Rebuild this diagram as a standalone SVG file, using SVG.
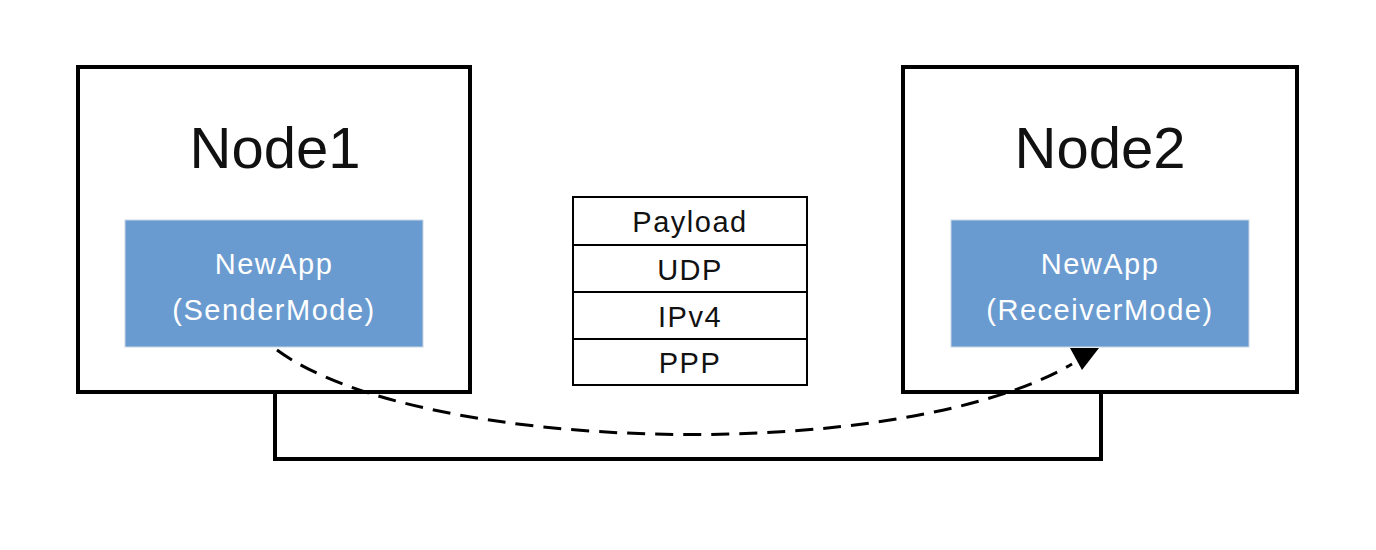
<svg xmlns="http://www.w3.org/2000/svg" width="1376" height="550" viewBox="0 0 1376 550">
<style>
.node{fill:#fff;stroke:#000;stroke-width:4}
.app{fill:#6a9bd0;stroke:#c9d6e6;stroke-width:1}
.title{font-family:"Liberation Sans",Arial,sans-serif;font-size:58px;fill:#111;text-anchor:middle}
.apptxt{font-family:"Liberation Sans",Arial,sans-serif;font-size:29px;fill:#fff;text-anchor:middle;letter-spacing:1.5px}
.layer{fill:#fff;stroke:#000;stroke-width:2}
.ltxt{font-family:"Liberation Sans",Arial,sans-serif;font-size:29px;fill:#111;text-anchor:middle;letter-spacing:1.5px}
.link{fill:none;stroke:#000;stroke-width:4}
.flow{fill:none;stroke:#000;stroke-width:3;stroke-dasharray:18 10}
</style>
<g id="connectors">
<polyline class="link" points="275,392 275,459 1101,459 1101,392"/>
</g>
<g id="node1">
<rect class="node" x="78" y="67" width="392" height="325"/>
<text class="title" x="275" y="168">Node1</text>
<g id="app1">
<rect class="app" x="125" y="220" width="298" height="127"/>
<text class="apptxt" x="274" y="274">NewApp</text>
<text class="apptxt" x="274" y="320">(SenderMode)</text>
</g>
</g>
<g id="node2">
<rect class="node" x="903" y="67" width="394" height="325"/>
<text class="title" x="1100" y="168">Node2</text>
<g id="app2">
<rect class="app" x="951" y="220" width="298" height="127"/>
<text class="apptxt" x="1100" y="274">NewApp</text>
<text class="apptxt" x="1100" y="320">(ReceiverMode)</text>
</g>
</g>
<g id="packet">
<rect class="layer" x="573" y="197" width="234" height="48"/>
<rect class="layer" x="573" y="245" width="234" height="47"/>
<rect class="layer" x="573" y="292" width="234" height="47"/>
<rect class="layer" x="573" y="339" width="234" height="46"/>
<text class="ltxt" x="690" y="232">Payload</text>
<text class="ltxt" x="690" y="280">UDP</text>
<text class="ltxt" x="690" y="327">IPv4</text>
<text class="ltxt" x="690" y="373">PPP</text>
</g>
<g id="flow">
<path class="flow" d="M277,350 C420,455 900,465 1072,364"/>
<polygon points="1070,348 1099,348 1082,370" fill="#000"/>
</g>
</svg>
